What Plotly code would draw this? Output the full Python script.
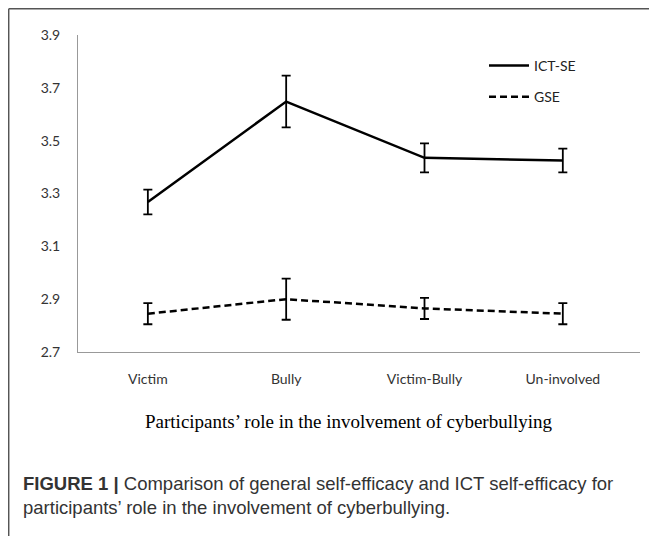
import plotly.graph_objects as go

categories = ["Victim", "Bully", "Victim-Bully", "Un-involved"]
ict_se = [3.268, 3.648, 3.435, 3.425]
ict_se_err = [0.047, 0.098, 0.055, 0.045]
gse = [2.845, 2.90, 2.865, 2.845]
gse_err = [0.04, 0.078, 0.04, 0.04]
y_ticks = [2.7, 2.9, 3.1, 3.3, 3.5, 3.7, 3.9]
x_pos = list(range(len(categories)))

OFF = 8  # page body margin
W, H = 657 - OFF, 536 - OFF
L, R, T, B = 70, 17, 27, 184
pw, ph = W - L - R, H - T - B

def px_x(sx):
    return (sx - OFF - L) / pw

def px_y(sy):
    return (H - B - (sy - OFF)) / ph

fig = go.Figure()
fig.add_trace(go.Scatter(
    x=x_pos, y=ict_se, name="ICT-SE", mode="lines", legendgroup="a",
    line=dict(color="black", width=2.5),
    error_y=dict(type="data", array=ict_se_err, visible=True, color="black", thickness=1.8, width=4.5),
))
fig.add_trace(go.Scatter(
    x=x_pos, y=gse, name="GSE", mode="lines", legendgroup="b",
    line=dict(color="black", width=2.5, dash="7px,4px"),
    error_y=dict(type="data", array=gse_err, visible=True, color="black", thickness=1.8, width=4.5),
))

axis_font = dict(family="Lato, Open Sans, sans-serif", size=14, color="#333")
fig.update_layout(
    width=W, height=H,
    margin=dict(l=L, r=R, t=T, b=B),
    paper_bgcolor="white", plot_bgcolor="white",
    showlegend=True,
    legend=dict(x=px_x(484), y=px_y(50), xanchor="left", yanchor="top",
                font=dict(family="Lato, Open Sans, sans-serif", size=14, color="#222"),
                bgcolor="rgba(0,0,0,0)", tracegroupgap=10, itemwidth=40),
    xaxis=dict(tickmode="array", tickvals=x_pos, ticktext=categories,
               range=[-0.505, 3.558], showline=True, linecolor="#999", linewidth=1,
               showgrid=False, zeroline=False, ticks="", tickfont=axis_font,
               ticklabelstandoff=14),
    yaxis=dict(tickmode="array", tickvals=y_ticks, ticktext=[f"{v:.1f}" for v in y_ticks],
               range=[2.7, 3.9], showline=True, linecolor="#999", linewidth=1,
               showgrid=False, zeroline=False, ticks="", tickfont=axis_font,
               ticklabelstandoff=14),
)

# outer frame (top and left edges visible)
frame = dict(color="#555", width=1.5)
fig.add_shape(type="line", xref="paper", yref="paper", x0=px_x(8.7), x1=px_x(700), y0=px_y(8.7), y1=px_y(8.7), line=frame)
fig.add_shape(type="line", xref="paper", yref="paper", x0=px_x(8.7), x1=px_x(8.7), y0=px_y(8.7), y1=px_y(600), line=frame)

fig.add_annotation(
    text="Participants\u2019 role in the involvement of cyberbullying",
    xref="paper", yref="paper", x=px_x(348), y=px_y(421), xanchor="center", yanchor="middle",
    showarrow=False, font=dict(family="Liberation Serif, serif", size=19, color="black"),
)
fig.add_annotation(
    text="<b>FIGURE 1 |</b> Comparison of general self-efficacy and ICT self-efficacy for",
    xref="paper", yref="paper", x=px_x(21), y=px_y(483), xanchor="left", yanchor="middle",
    showarrow=False, font=dict(family="Liberation Sans, Arial, sans-serif", size=18.5, color="#333"),
)
fig.add_annotation(
    text="participants\u2019 role in the involvement of cyberbullying.",
    xref="paper", yref="paper", x=px_x(21), y=px_y(507), xanchor="left", yanchor="middle",
    showarrow=False, font=dict(family="Liberation Sans, Arial, sans-serif", size=18.5, color="#333"),
)

fig.write_html("out.html")
